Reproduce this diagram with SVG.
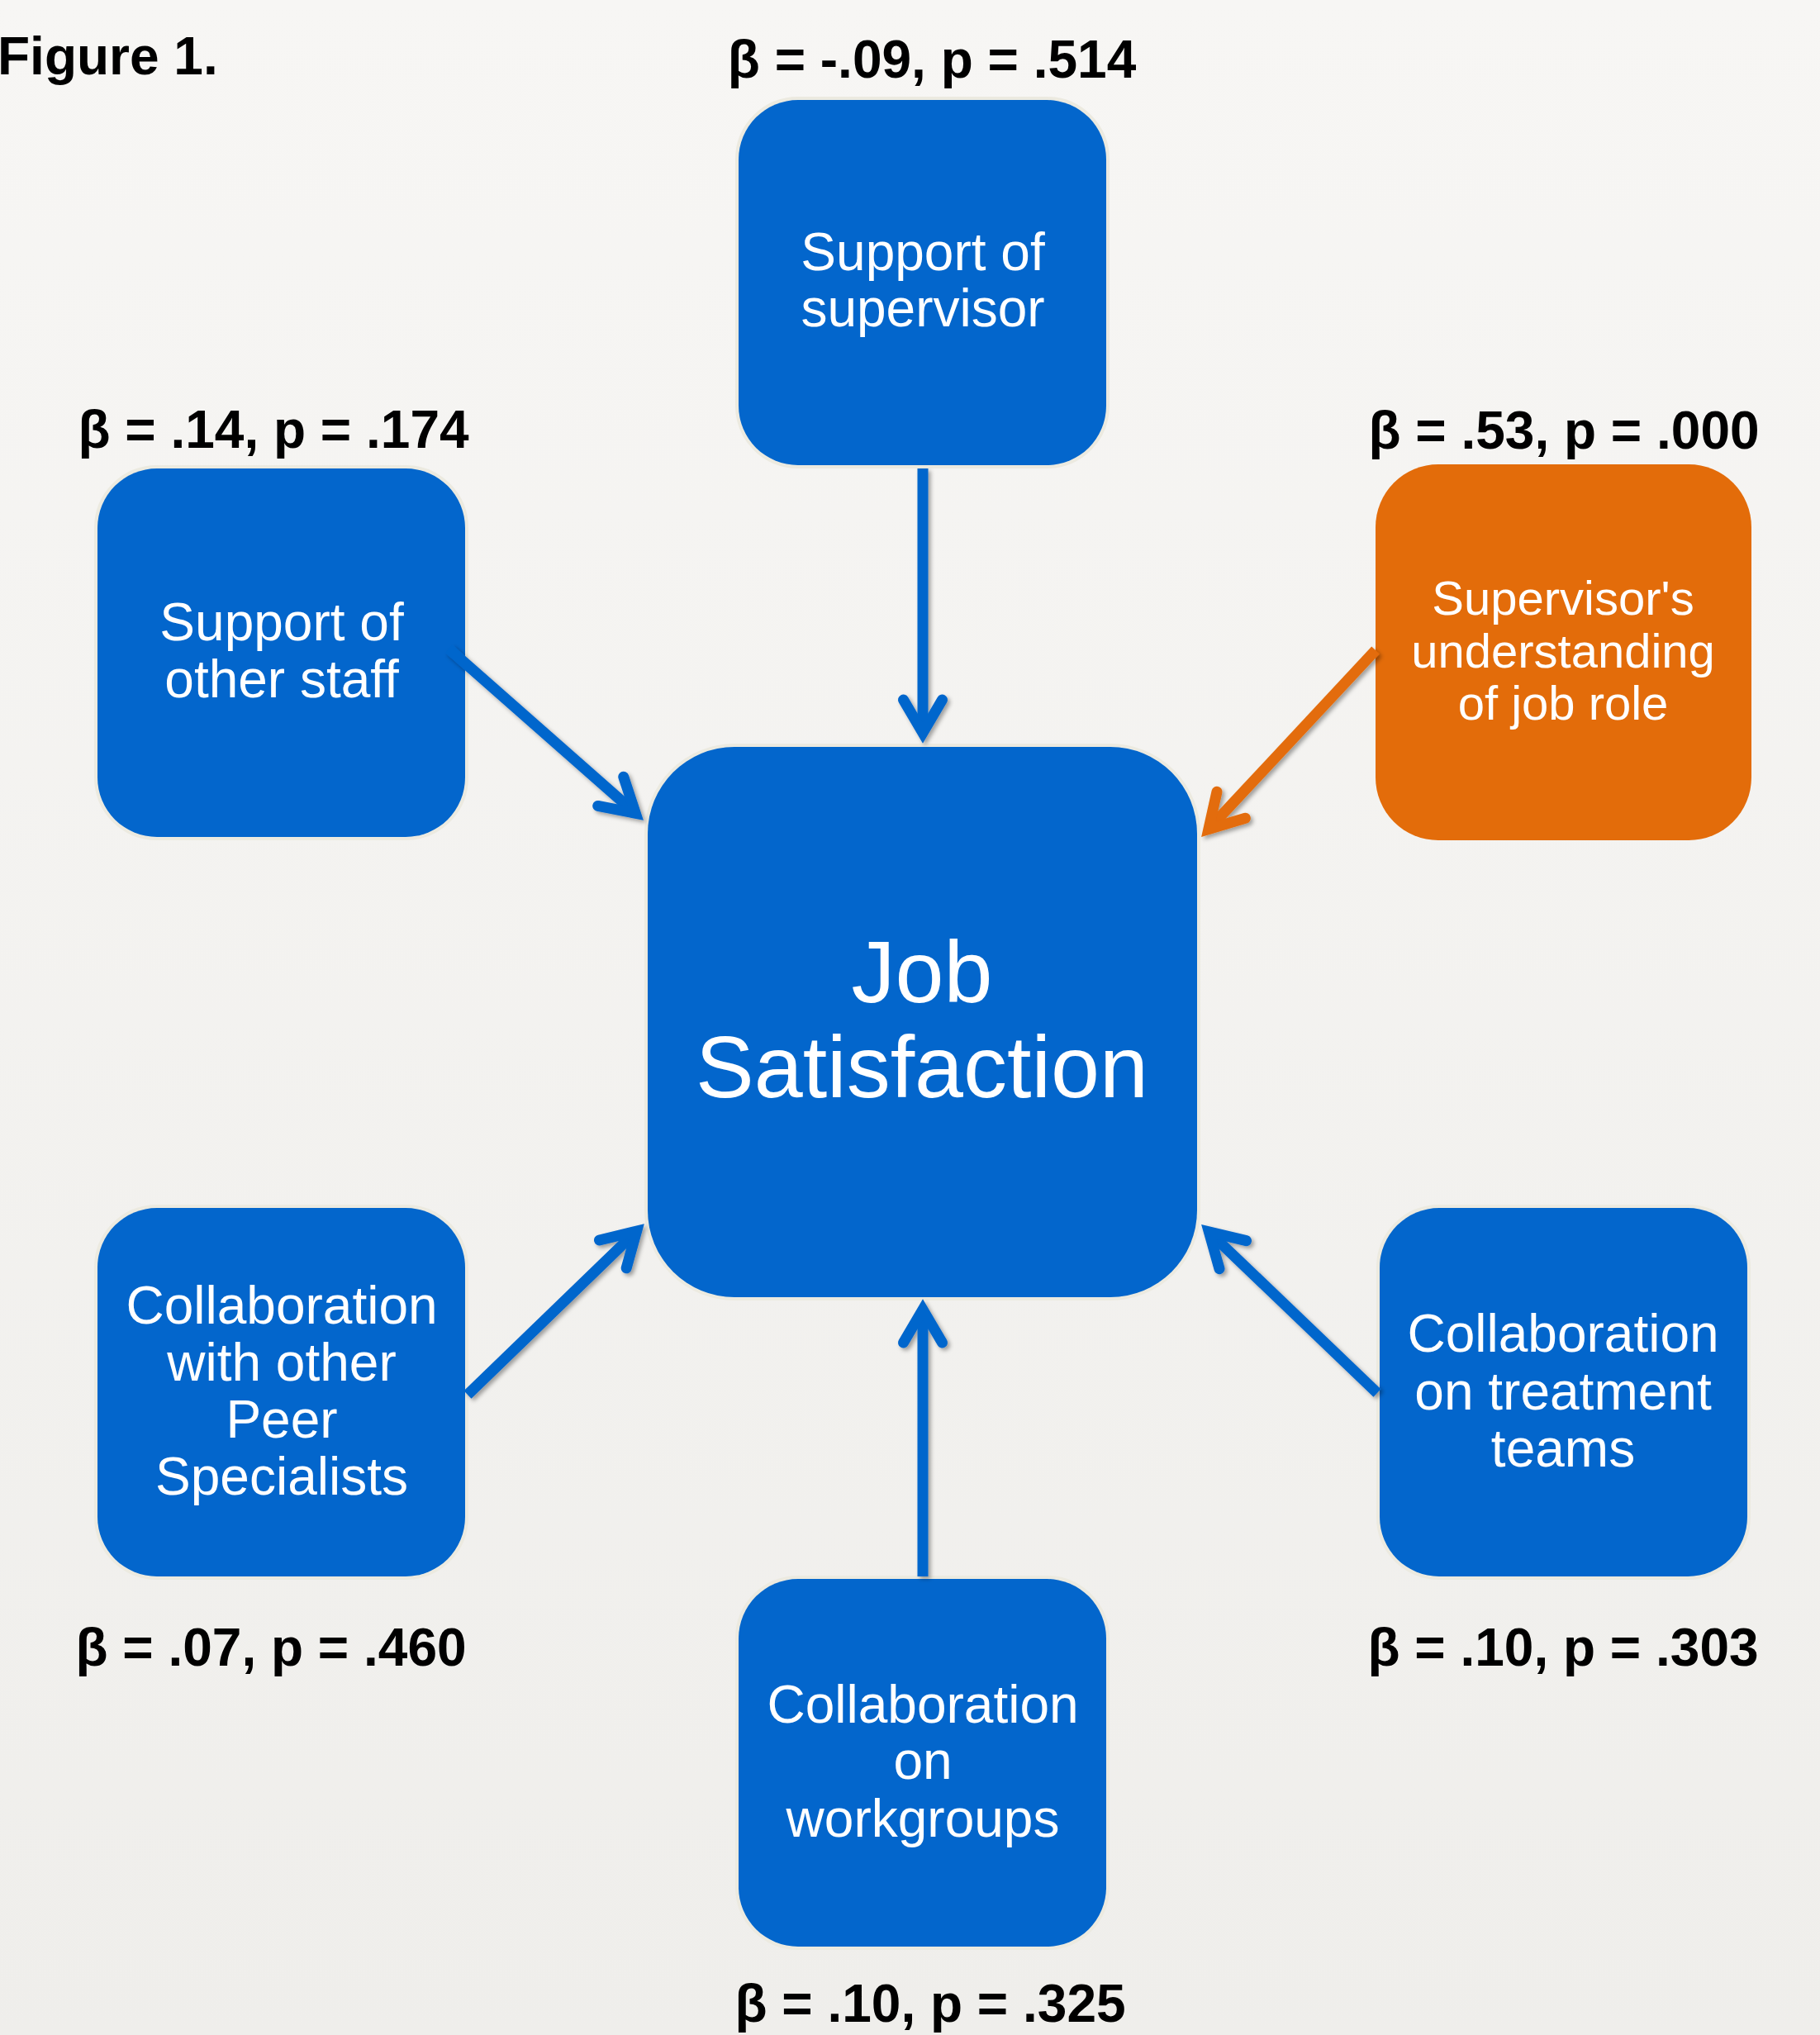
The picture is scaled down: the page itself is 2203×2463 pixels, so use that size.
<svg xmlns="http://www.w3.org/2000/svg" width="2203" height="2463" viewBox="0 0 2203 2463">
  <defs>
    <linearGradient id="bg" x1="0" y1="0" x2="0" y2="1">
      <stop offset="0" stop-color="#F7F6F4"/>
      <stop offset="1" stop-color="#EFEEEB"/>
    </linearGradient>
    <filter id="shadow" x="-20%" y="-20%" width="140%" height="140%">
      <feDropShadow dx="3" dy="3" stdDeviation="2.5" flood-color="#000" flood-opacity="0.35"/>
    </filter>
    <marker id="head-blue" markerUnits="userSpaceOnUse" orient="auto" viewBox="-50 -50 100 100" markerWidth="100" markerHeight="100" refX="0" refY="0" overflow="visible">
      <path d="M-29,-23.5 L11,0 L-29,23.5" fill="none" stroke="#0366CC" stroke-width="13" stroke-linecap="round" stroke-linejoin="miter"/>
    </marker>
    <marker id="head-orange" markerUnits="userSpaceOnUse" orient="auto" viewBox="-50 -50 100 100" markerWidth="100" markerHeight="100" refX="0" refY="0" overflow="visible">
      <path d="M-29,-23.5 L11,0 L-29,23.5" fill="none" stroke="#E36C0A" stroke-width="13" stroke-linecap="round" stroke-linejoin="miter"/>
    </marker>
  </defs>
  <style>
    .box { fill: #0366CC; stroke: #ECEAE0; stroke-width: 8; paint-order: stroke; }
    .box-hi { fill: #E36C0A; }
    .txt { font-family: "Liberation Sans", Arial, sans-serif; fill: #FFFFFF; text-anchor: middle; font-size: 64px; }
    .lbl { font-family: "Liberation Sans", Arial, sans-serif; font-weight: bold; fill: #000000; text-anchor: middle; font-size: 64px; }
    .edge { fill: none; stroke: #0366CC; stroke-width: 13; stroke-linecap: butt; }
    .edge-hi { stroke: #E36C0A; }
  </style>

  <rect x="0" y="0" width="2203" height="2463" fill="url(#bg)"/>

  <text x="-3" y="90" class="lbl" style="text-anchor:start">Figure 1.</text>

  <!-- coefficient labels -->
  <g id="labels">
    <text x="1128" y="94" class="lbl">β = -.09, p = .514</text>
    <text x="331" y="542" class="lbl">β = .14, p = .174</text>
    <text x="1893" y="543" class="lbl">β = .53, p = .000</text>
    <text x="328" y="2016" class="lbl">β = .07, p = .460</text>
    <text x="1892" y="2016" class="lbl">β = .10, p = .303</text>
    <text x="1126" y="2447" class="lbl">β = .10, p = .325</text>
  </g>

  <g id="node-supervisor">
    <rect x="894" y="121" width="445" height="442" rx="72" ry="72" class="box"/>
    <text x="1117" y="327" class="txt">Support of</text>
    <text x="1117" y="395" class="txt">supervisor</text>
  </g>

  <g id="node-other-staff">
    <rect x="118" y="567" width="445" height="446" rx="72" ry="72" class="box"/>
    <text x="341" y="775" class="txt">Support of</text>
    <text x="341" y="844" class="txt">other staff</text>
  </g>

  <g id="node-job-role">
    <rect x="1665" y="562" width="455" height="455" rx="76" ry="76" class="box-hi"/>
    <text x="1892" y="744" class="txt" style="font-size:58px">Supervisor's</text>
    <text x="1892" y="808" class="txt" style="font-size:58px">understanding</text>
    <text x="1892" y="871" class="txt" style="font-size:58px">of job role</text>
  </g>

  <g id="node-job-satisfaction">
    <rect x="784" y="904" width="665" height="666" rx="105" ry="105" class="box"/>
    <text x="1116" y="1213" class="txt" style="font-size:106px">Job</text>
    <text x="1116" y="1328" class="txt" style="font-size:106px">Satisfaction</text>
  </g>

  <g id="node-peer-specialists">
    <rect x="118" y="1462" width="445" height="446" rx="72" ry="72" class="box"/>
    <text x="341" y="1602" class="txt">Collaboration</text>
    <text x="341" y="1671" class="txt">with other</text>
    <text x="341" y="1740" class="txt">Peer</text>
    <text x="341" y="1809" class="txt">Specialists</text>
  </g>

  <g id="node-treatment-teams">
    <rect x="1670" y="1462" width="445" height="446" rx="72" ry="72" class="box"/>
    <text x="1892" y="1636" class="txt">Collaboration</text>
    <text x="1892" y="1706" class="txt">on treatment</text>
    <text x="1892" y="1775" class="txt">teams</text>
  </g>

  <g id="node-workgroups">
    <rect x="894" y="1911" width="445" height="445" rx="72" ry="72" class="box"/>
    <text x="1117" y="2085" class="txt">Collaboration</text>
    <text x="1117" y="2153" class="txt">on</text>
    <text x="1117" y="2223" class="txt">workgroups</text>
  </g>

  <!-- connectors: each shaft stops just inside its arrowhead -->
  <g id="connectors" filter="url(#shadow)">
    <line x1="1117" y1="567" x2="1117" y2="876" class="edge" marker-end="url(#head-blue)"/>
    <line x1="543" y1="785" x2="761" y2="977" class="edge" marker-end="url(#head-blue)"/>
    <line x1="1665" y1="787" x2="1470.4" y2="995.5" class="edge edge-hi" marker-end="url(#head-orange)"/>
    <line x1="566" y1="1688" x2="762.7" y2="1497.7" class="edge" marker-end="url(#head-blue)"/>
    <line x1="1667" y1="1686" x2="1471.3" y2="1498.6" class="edge" marker-end="url(#head-blue)"/>
    <line x1="1117" y1="1908" x2="1117" y2="1596" class="edge" marker-end="url(#head-blue)"/>
  </g>
</svg>
